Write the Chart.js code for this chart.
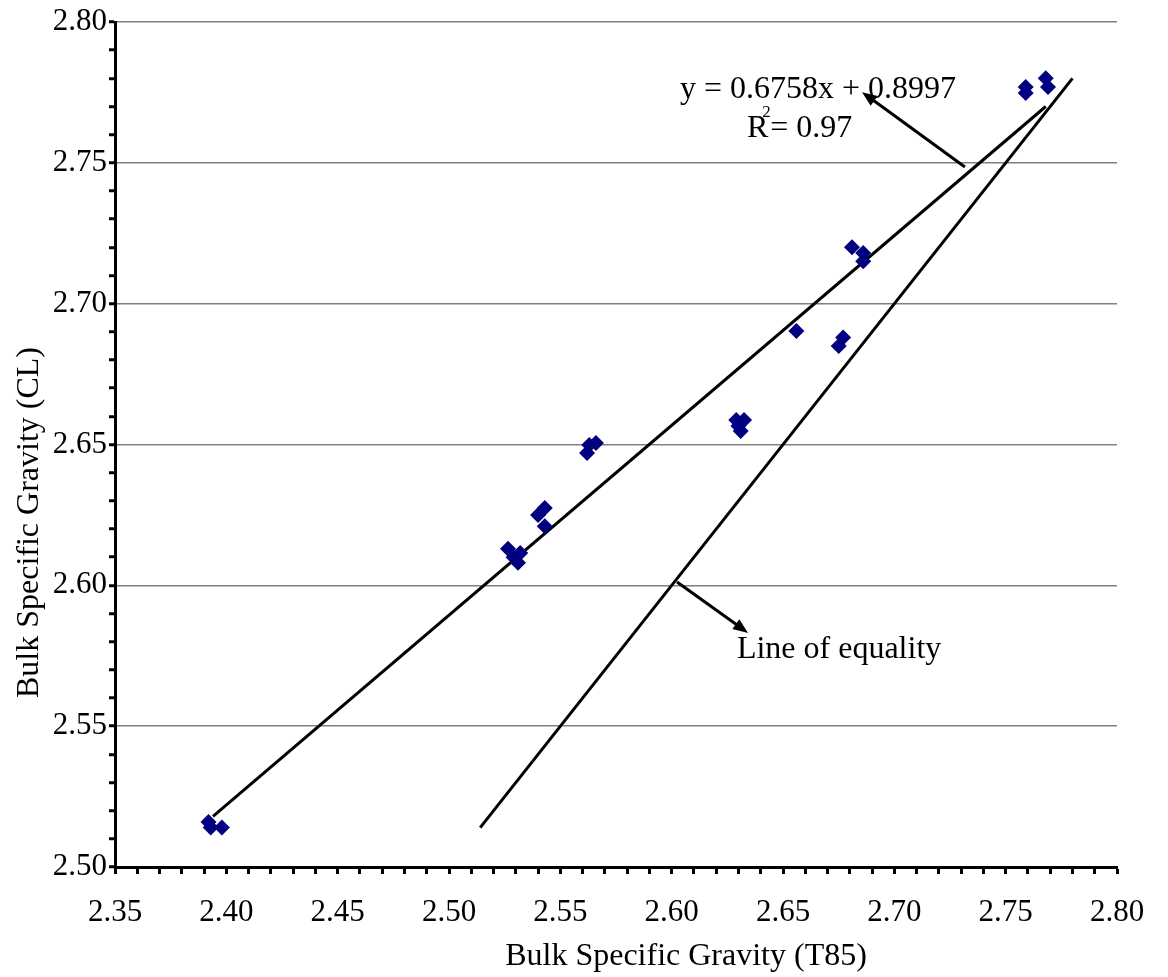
<!DOCTYPE html>
<html>
<head>
<meta charset="utf-8">
<script src="https://cdn.jsdelivr.net/npm/chart.js@4"></script>
<style>
  html, body { margin: 0; padding: 0; background: #fff; }
</style>
</head>
<body>
<canvas id="chart" width="1168" height="977"></canvas>
<script>
const t85 = [2.392, 2.393, 2.398, 2.5265, 2.529, 2.532, 2.531, 2.540, 2.543, 2.543,
  2.562, 2.563, 2.566, 2.629, 2.6325, 2.630, 2.631, 2.656, 2.675, 2.677,
  2.681, 2.686, 2.686, 2.759, 2.759, 2.768, 2.769];
const cl = [2.516, 2.514, 2.514, 2.613, 2.610, 2.6115, 2.608, 2.625, 2.6275, 2.621,
  2.647, 2.6498, 2.6505, 2.6587, 2.6587, 2.6566, 2.6548, 2.6903, 2.685, 2.688,
  2.720, 2.718, 2.7151, 2.7769, 2.7748, 2.780, 2.7769];

// trend line and line of equality end points
const fitX = [2.394, 2.768];
const fitY = [2.518, 2.770];
const equalX = [2.514, 2.780];
const equalY = [2.514, 2.780];

const equationText = 'y = 0.6758x + 0.8997';
const r2Text = '= 0.97';
const equalityText = 'Line of equality';
const xTitle = 'Bulk Specific Gravity (T85)';
const yTitle = 'Bulk Specific Gravity (CL)';

const FONT = '"Liberation Serif", "Times New Roman", serif';
const isMajor = (v) => Math.round(v * 100) % 5 === 0;

const drawArrow = (ctx, x1, y1, x2, y2) => {
  const ang = Math.atan2(y2 - y1, x2 - x1);
  const len = 15, half = 6;
  ctx.beginPath();
  ctx.moveTo(x1, y1);
  ctx.lineTo(x2 - Math.cos(ang) * len * 0.7, y2 - Math.sin(ang) * len * 0.7);
  ctx.stroke();
  ctx.beginPath();
  ctx.moveTo(x2, y2);
  ctx.lineTo(x2 - len * Math.cos(ang) + half * Math.sin(ang), y2 - len * Math.sin(ang) - half * Math.cos(ang));
  ctx.lineTo(x2 - len * Math.cos(ang) - half * Math.sin(ang), y2 - len * Math.sin(ang) + half * Math.cos(ang));
  ctx.closePath();
  ctx.fill();
};

const notes = {
  id: 'notes',
  afterDatasetsDraw(chart) {
    const { ctx, scales: { x, y } } = chart;
    ctx.save();
    ctx.strokeStyle = '#000';
    ctx.fillStyle = '#000';
    ctx.lineWidth = 3;
    // arrow to the equation, arrow to the equality label
    drawArrow(ctx, x.getPixelForValue(2.7317), y.getPixelForValue(2.7485),
      x.getPixelForValue(2.6855), y.getPixelForValue(2.7751));
    drawArrow(ctx, x.getPixelForValue(2.6024), y.getPixelForValue(2.6012),
      x.getPixelForValue(2.6343), y.getPixelForValue(2.5831));

    ctx.font = '32px ' + FONT;
    ctx.textBaseline = 'alphabetic';
    ctx.textAlign = 'left';
    ctx.fillText(equationText, x.getPixelForValue(2.6037), y.getPixelForValue(2.7730));
    const rx = x.getPixelForValue(2.6338), ry = y.getPixelForValue(2.7592);
    ctx.fillText('R', rx, ry);
    const rw = ctx.measureText('R').width;
    ctx.fillText(r2Text, rx + rw + 2, ry);
    ctx.font = '17px ' + FONT;
    ctx.fillText('2', rx + rw - 6, ry - 20);
    ctx.font = '32px ' + FONT;
    ctx.fillText(equalityText, x.getPixelForValue(2.6293), y.getPixelForValue(2.5742));
    ctx.restore();
  },
  afterDraw(chart) {
    const { ctx, chartArea: ca } = chart;
    ctx.save();
    ctx.fillStyle = '#000';
    ctx.font = '32px ' + FONT;
    ctx.textAlign = 'center';
    ctx.textBaseline = 'middle';
    ctx.fillText(xTitle, (ca.left + ca.right) / 2 + 70, ca.bottom + 90);
    ctx.translate(30, (ca.top + ca.bottom) / 2 + 78);
    ctx.rotate(-Math.PI / 2);
    ctx.fillText(yTitle, 0, 0);
    ctx.restore();
  },
};

const pts = t85.map((v, i) => ({ x: v, y: cl[i] }));
const fitPts = fitX.map((v, i) => ({ x: v, y: fitY[i] }));
const equalPts = equalX.map((v, i) => ({ x: v, y: equalY[i] }));

new Chart(document.getElementById('chart'), {
  type: 'scatter',
  data: {
    datasets: [
      {
        label: 'CL vs T85',
        data: pts,
        pointStyle: 'rectRot',
        pointRadius: 8,
        pointBackgroundColor: '#000080',
        pointBorderColor: '#000080',
        pointBorderWidth: 0,
      },
      {
        label: 'Linear fit',
        data: fitPts,
        showLine: true,
        pointRadius: 0,
        borderColor: '#000',
        borderWidth: 3,
      },
      {
        label: 'Line of equality',
        data: equalPts,
        showLine: true,
        pointRadius: 0,
        borderColor: '#000',
        borderWidth: 3,
      },
    ],
  },
  options: {
    responsive: false,
    animation: false,
    layout: { padding: { top: 22, right: 51, left: 0, bottom: 0 } },
    plugins: { legend: { display: false }, tooltip: { enabled: false } },
    scales: {
      x: {
        min: 2.35,
        max: 2.80,
        border: { color: '#000', width: 3 },
        grid: { drawOnChartArea: false, drawTicks: true, tickLength: 7, tickColor: '#000', tickWidth: 3 },
        ticks: {
          stepSize: 0.01,
          autoSkip: false,
          maxTicksLimit: 100,
          maxRotation: 0,
          padding: 20,
          color: '#000',
          font: { family: FONT, size: 31 },
          callback: (v) => (isMajor(v) ? v.toFixed(2) : ''),
        },
        afterFit: (s) => { s.height = 110; },
      },
      y: {
        min: 2.50,
        max: 2.80,
        border: { color: '#000', width: 3 },
        grid: {
          color: (c) => (c.tick && isMajor(c.tick.value) ? '#808080' : 'rgba(0,0,0,0)'),
          lineWidth: 1.5,
          tickLength: 6,
          tickColor: '#000',
          tickWidth: 3,
        },
        ticks: {
          stepSize: 0.01,
          autoSkip: false,
          maxTicksLimit: 100,
          padding: 2,
          color: '#000',
          font: { family: FONT, size: 31 },
          callback: (v) => (isMajor(v) ? v.toFixed(2) : ''),
        },
        afterFit: (s) => { s.width = 115; },
      },
    },
  },
  plugins: [notes],
});
</script>
</body>
</html>
